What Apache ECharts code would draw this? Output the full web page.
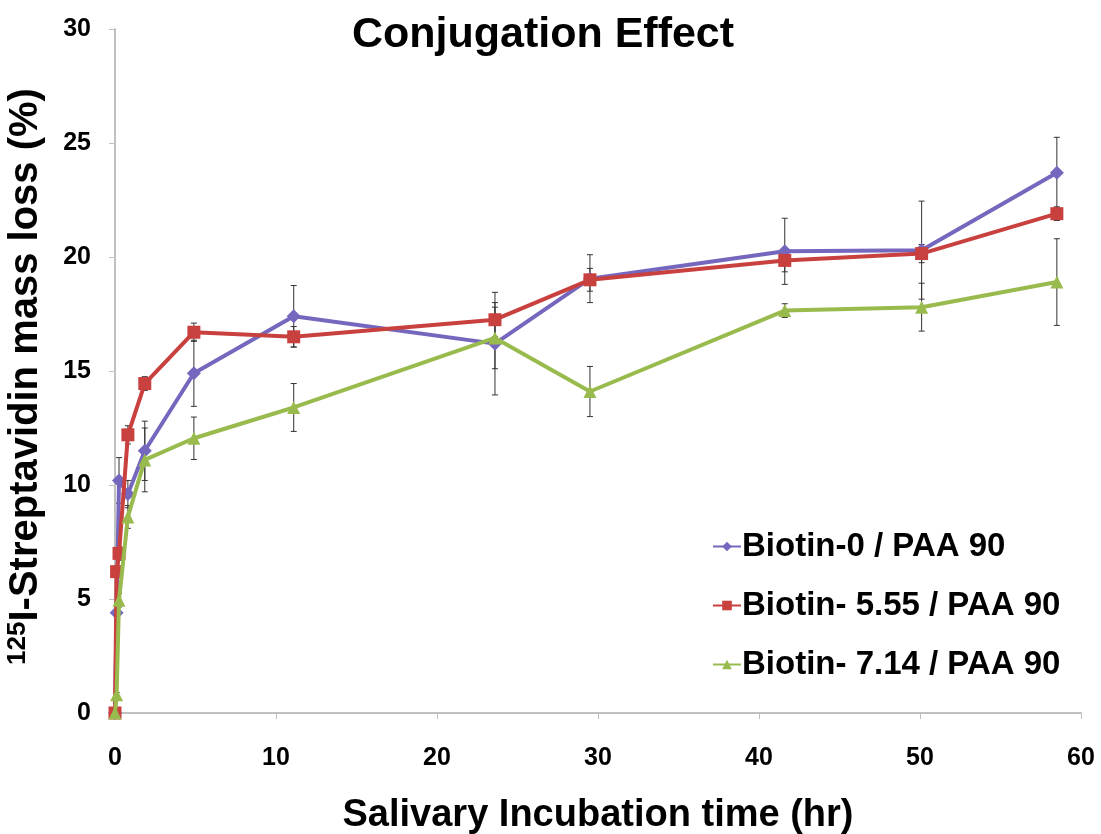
<!DOCTYPE html>
<html>
<head>
<meta charset="utf-8">
<script src="https://cdn.jsdelivr.net/npm/echarts@6/dist/echarts.min.js"></script>
<style>
  html, body { margin: 0; padding: 0; background: #fff; }
  #chart { width: 1101px; height: 834px; }
</style>
</head>
<body>
<div id="chart"></div>
<script>
// time points (hr)
const timeHr = [0, 0.1, 0.25, 0.8, 1.85, 4.9, 11.1, 23.6, 29.5, 41.6, 50.1, 58.5];

// mass loss (%) per formulation
const biotin0 = [0, 4.4, 10.2, 9.6, 11.5, 14.9, 17.4, 16.2, 19.05, 20.25, 20.3, 23.7];
const biotin555 = [0, 6.2, 7.0, 12.2, 14.45, 16.7, 16.5, 17.25, 19.0, 19.85, 20.15, 21.9];
const biotin714 = [0, 0.8, 4.95, 8.6, 11.1, 12.05, 13.4, 16.45, 14.1, 17.65, 17.8, 18.9];

// error bar half widths (%)
const err0 = [0, 0.1, 1.0, 0.6, 1.3, 1.45, 1.35, 2.25, 1.05, 1.45, 2.15, 1.55];
const err555 = [0, 0.2, 0.3, 0.4, 0.3, 0.4, 0.45, 0.75, 0.5, 0.5, 0.4, 0.3];
const err714 = [0, 0.1, 0.3, 0.5, 1.4, 0.93, 1.05, 1.35, 1.1, 0.3, 1.05, 1.9];

const seriesNames = ["Biotin-0 / PAA 90", "Biotin- 5.55 / PAA 90", "Biotin- 7.14 / PAA 90"];
const colors = ["#7467bd", "#c8413f", "#99bb4e"];

const font = "Liberation Sans, Arial, sans-serif";

function pairs(ys) {
  return timeHr.map((t, i) => [t, ys[i]]);
}

// error bars as custom series
function errorSeries(ys, errs) {
  return {
    type: "custom",
    silent: true,
    z: 1,
    data: timeHr.map((t, i) => [t, ys[i] - errs[i], ys[i] + errs[i]]),
    renderItem(params, api) {
      const lo = api.coord([api.value(0), api.value(1)]);
      const hi = api.coord([api.value(0), api.value(2)]);
      const cap = 3;
      const style = { stroke: "#333", lineWidth: 1 };
      return {
        type: "group",
        children: [
          { type: "line", shape: { x1: hi[0], y1: hi[1], x2: lo[0], y2: lo[1] }, style },
          { type: "line", shape: { x1: hi[0] - cap, y1: hi[1], x2: hi[0] + cap, y2: hi[1] }, style },
          { type: "line", shape: { x1: lo[0] - cap, y1: lo[1], x2: lo[0] + cap, y2: lo[1] }, style }
        ]
      };
    }
  };
}

function lineSeries(idx, ys, symbol, size) {
  return {
    name: seriesNames[idx],
    type: "line",
    z: 2 + idx,
    data: pairs(ys),
    symbol,
    symbolSize: size,
    showAllSymbol: true,
    lineStyle: { width: 4, color: colors[idx] },
    itemStyle: { color: colors[idx] }
  };
}

const chart = echarts.init(document.getElementById("chart"));

const option = {
  animation: false,
  color: colors,
  title: {
    text: "Conjugation Effect",
    left: 538,
    top: 9,
    textAlign: "center",
    textStyle: { fontFamily: font, fontSize: 43, fontWeight: "bold", color: "#000" }
  },
  legend: {
    orient: "vertical",
    left: 707,
    top: 525,
    itemGap: 26,
    itemWidth: 28,
    itemHeight: 12,
    selectedMode: false,
    data: seriesNames,
    textStyle: { fontFamily: font, fontSize: 33, fontWeight: "bold", color: "#000", padding: [0, 0, 0, -4] }
  },
  grid: { left: 115, right: 20, top: 29, bottom: 121, containLabel: false, outerBoundsMode: "none" },
  xAxis: {
    type: "value",
    min: 0,
    max: 60,
    interval: 10,
    name: "Salivary Incubation time (hr)",
    nameLocation: "middle",
    nameGap: 84,
    nameTextStyle: { fontFamily: font, fontSize: 38, fontWeight: "bold", color: "#000" },
    axisLine: { show: true, lineStyle: { color: "#c0c0c0", width: 2 } },
    axisTick: { show: true, length: 6, lineStyle: { color: "#c0c0c0" } },
    axisLabel: { margin: 33, fontFamily: font, fontSize: 25, fontWeight: "bold", color: "#000" },
    splitLine: { show: false }
  },
  yAxis: {
    type: "value",
    min: 0,
    max: 30,
    interval: 5,
    name: "{sup|125}{main|I-Streptavidin mass loss (%)}",
    nameLocation: "middle",
    nameRotate: 90,
    nameGap: 68,
    nameTextStyle: {
      fontFamily: font,
      color: "#000",
      padding: [0, 11, 0, 0],
      rich: {
        sup: { fontFamily: font, fontSize: 26, fontWeight: "bold", color: "#000", verticalAlign: "top", lineHeight: 42 },
        main: { fontFamily: font, fontSize: 40, fontWeight: "bold", color: "#000", lineHeight: 42 }
      }
    },
    axisLine: { show: true, lineStyle: { color: "#c0c0c0", width: 2 } },
    axisTick: { show: true, length: 6, lineStyle: { color: "#c0c0c0" } },
    axisLabel: { margin: 24, fontFamily: font, fontSize: 25, fontWeight: "bold", color: "#000" },
    splitLine: { show: false }
  },
  series: [
    errorSeries(biotin0, err0),
    errorSeries(biotin555, err555),
    errorSeries(biotin714, err714),
    lineSeries(0, biotin0, "diamond", 14),
    lineSeries(1, biotin555, "rect", 13),
    lineSeries(2, biotin714, "triangle", 13)
  ]
};

chart.setOption(option);
</script>
</body>
</html>
